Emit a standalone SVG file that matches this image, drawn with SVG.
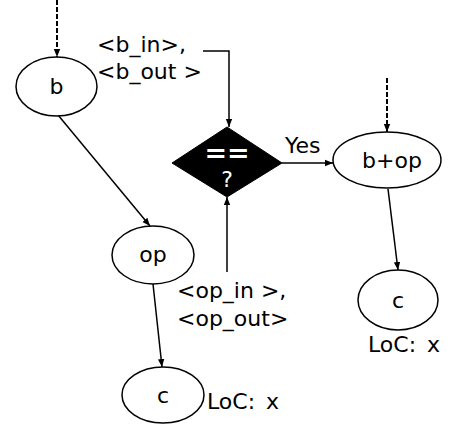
<svg xmlns="http://www.w3.org/2000/svg" width="450" height="428" viewBox="0 0 450 428">
<style>
.n{fill:#fff;stroke:#000;stroke-width:1.5}
.t{font-family:"DejaVu Sans",Verdana,sans-serif;font-size:22px;fill:#000}
.c{stroke:#000;stroke-width:1.5;fill:none;marker-end:url(#a)}
.d{stroke-dasharray:5 2;stroke-width:2}
</style>
<defs>
<marker id="a" viewBox="0 0 10 10" refX="10" refY="5" markerWidth="8" markerHeight="8" markerUnits="userSpaceOnUse" orient="auto">
<path d="M0,1 L10,5 L0,9 Z" fill="#000"/>
</marker>
</defs>
<rect width="450" height="428" fill="#fff"/>
<g id="connectors">
<line class="c d" x1="57" y1="0" x2="57" y2="57"/>
<line class="c d" x1="387" y1="78" x2="387" y2="132"/>
<polyline class="c" points="203,51 229,51 229,127"/>
<line class="c" x1="227" y1="272" x2="227" y2="197"/>
<line class="c" x1="282" y1="163" x2="333" y2="163"/>
<line class="c" x1="58" y1="115" x2="150" y2="226"/>
<line class="c" x1="153" y1="284" x2="162" y2="367"/>
<line class="c" x1="388" y1="189" x2="398" y2="270"/>
</g>
<g id="b">
<ellipse class="n" cx="56.5" cy="86.5" rx="40.5" ry="29.5"/>
<text class="t" x="56.5" y="94" text-anchor="middle">b</text>
</g>
<g id="b-label">
<text class="t" x="97" y="52">&lt;b_in&gt;,</text>
<text class="t" x="97" y="79">&lt;b_out &gt;</text>
</g>
<g id="decision">
<polygon points="227,127 282,163 227,197 172,163" fill="#000" stroke="#000"/>
<text x="227" y="162" text-anchor="middle" font-family="DejaVu Sans,sans-serif" font-size="27" font-weight="bold" fill="#fff">==</text>
<text x="227" y="187" text-anchor="middle" font-family="DejaVu Sans,sans-serif" font-size="22" fill="#fff">?</text>
</g>
<text class="t" x="285" y="153">Yes</text>
<g id="bop">
<ellipse class="n" cx="387" cy="160" rx="54" ry="28"/>
<text class="t" x="392" y="168" text-anchor="middle">b+op</text>
</g>
<g id="c2">
<ellipse class="n" cx="398" cy="300" rx="40" ry="30"/>
<text class="t" x="398" y="308" text-anchor="middle">c</text>
<text class="t" x="368" y="352" word-spacing="4">LoC: x</text>
</g>
<g id="op">
<ellipse class="n" cx="153" cy="255" rx="41" ry="29"/>
<text class="t" x="153" y="262" text-anchor="middle">op</text>
</g>
<g id="op-label">
<text class="t" x="177" y="298">&lt;op_in &gt;,</text>
<text class="t" x="177" y="326">&lt;op_out&gt;</text>
</g>
<g id="c1">
<ellipse class="n" cx="163" cy="395" rx="41" ry="28"/>
<text class="t" x="163" y="403" text-anchor="middle">c</text>
<text class="t" x="207" y="409" word-spacing="4">LoC: x</text>
</g>
</svg>
